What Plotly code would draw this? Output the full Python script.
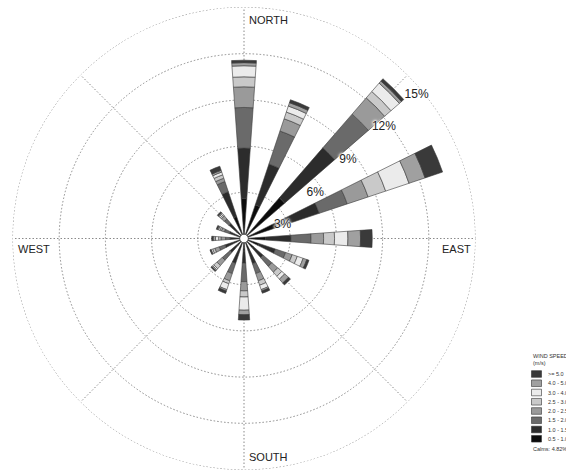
import plotly.graph_objects as go

W, H = 566, 471

directions = ["N", "NNE", "NE", "ENE", "E", "ESE", "SE", "SSE",
              "S", "SSW", "SW", "WSW", "W", "WNW", "NW", "NNW"]
angles = [0, 22.5, 45, 67.5, 90, 112.5, 135, 157.5,
          180, 202.5, 225, 247.5, 270, 292.5, 315, 337.5]

speed_bins = ["0.5 - 1.0", "1.0 - 1.5", "1.5 - 2.0", "2.0 - 2.5",
              "2.5 - 3.0", "3.0 - 4.0", "4.0 - 5.0", ">= 5.0"]
bin_colors = ["#0c0c0c", "#2c2c2c", "#6a6a6a", "#9a9a9a",
              "#c9c9c9", "#ebebeb", "#a0a0a0", "#3a3a3a"]

# frequency (%) per direction, one list per speed bin
f_05_10 = [2.6, 2.3, 3.5, 2.3, 1.4, 1.0, 0.8, 0.8, 0.75, 0.8, 0.55, 0.6, 0.45, 0.5, 0.6, 1.5]
f_10_15 = [3.27, 2.8, 4.3, 2.85, 1.65, 1.15, 0.85, 0.93, 0.85, 0.9, 0.65, 0.7, 0.45, 0.5, 0.7, 1.7]
f_15_20 = [2.64, 2.26, 2.9, 1.92, 1.3, 0.7, 0.75, 0.67, 1.2, 0.7, 0.67, 0.4, 0.3, 0.35, 0.4, 0.7]
f_20_25 = [1.34, 0.84, 1.4, 1.43, 0.82, 0.45, 0.5, 0.5, 0.6, 0.5, 0.46, 0.3, 0.3, 0.2, 0.25, 0.23]
f_25_30 = [0.65, 0.46, 0.55, 1.2, 0.71, 0.35, 0.35, 0.3, 0.4, 0.2, 0.27, 0.15, 0.15, 0.1, 0.1, 0.23]
f_30_40 = [0.72, 0.41, 0.72, 1.6, 0.87, 0.4, 0.25, 0.3, 0.86, 0.4, 0.1, 0.1, 0.2, 0.1, 0.1, 0.19]
f_40_50 = [0.2, 0.23, 0.18, 1.1, 0.82, 0.25, 0.33, 0.1, 0.29, 0.1, 0.08, 0.04, 0.15, 0.07, 0.07, 0.12]
f_50_up = [0.16, 0.2, 0.2, 1.2, 0.76, 0.15, 0.17, 0.15, 0.35, 0.16, 0.07, 0.04, 0.1, 0.08, 0.08, 0.28]

series = [f_05_10, f_10_15, f_15_20, f_20_25, f_25_30, f_30_40, f_40_50, f_50_up]

radial_ticks = [3, 6, 9, 12, 15]
radial_labels = ["3%", "6%", "9%", "12%", "15%"]
calms_text = "Calms: 4.82%"
legend_title = "WIND SPEED<br>(m/s)"

fig = go.Figure()
for name, vals, col in zip(speed_bins, series, bin_colors):
    fig.add_trace(go.Barpolar(
        r=vals, theta=angles, name=name, width=8,
        marker=dict(color=col, line=dict(color="#3a3a3a", width=0.6)),
        showlegend=False,
    ))

# radial tick labels on an overlaid polar (so they sit above the petals)
label_shift = 0.75
halo = "0px 0px 2px white, 0px 0px 2px white, 0px 0px 3px white, 0px 0px 3px white, 0px 0px 4px white"
fig.add_trace(go.Scatterpolar(
    r=[t - label_shift for t in radial_ticks], theta=[45] * len(radial_ticks),
    text=radial_labels, mode="markers+text", textposition="bottom right",
    marker=dict(size=7, color="rgba(0,0,0,0)"), subplot="polar2",
    textfont=dict(size=12, color="#222", shadow=halo),
    showlegend=False, hoverinfo="skip",
))

# polar placement (pixels -> paper)
cx, cy, R = 244, 238.5, 231
dom_x = [(cx - R) / W, (cx + R) / W]
dom_y = [1 - (cy + R) / H, 1 - (cy - R) / H]

def px(x):
    return x / W

def py(y):
    return 1 - y / H

GRID = "#8a8a8a"
DASH = "1.5px,2px"

fig.update_layout(
    width=W, height=H,
    margin=dict(l=0, r=0, t=0, b=0),
    paper_bgcolor="white",
    plot_bgcolor="white",
    barmode="stack",
    font=dict(family="Liberation Sans, Arial, sans-serif", color="#222"),
    polar=dict(
        domain=dict(x=dom_x, y=dom_y),
        bgcolor="white",
        bargap=0,
        radialaxis=dict(
            range=[0, 15], tickvals=radial_ticks, showticklabels=False,
            angle=45, showline=False, ticks="",
            gridcolor=GRID, griddash=DASH, gridwidth=1,
        ),
        angularaxis=dict(
            rotation=90, direction="clockwise",
            tickvals=[0, 45, 90, 135, 180, 225, 270, 315],
            showticklabels=False, ticks="", showline=False,
            gridcolor=GRID, griddash=DASH, gridwidth=1,
        ),
    ),
    polar2=dict(
        domain=dict(x=dom_x, y=dom_y),
        bgcolor="rgba(0,0,0,0)",
        radialaxis=dict(range=[0, 15], showticklabels=False, showgrid=False,
                        showline=False, ticks=""),
        angularaxis=dict(rotation=90, direction="clockwise", showticklabels=False,
                         showgrid=False, showline=False, ticks=""),
    ),
)

shapes = []
annotations = []

# outer dotted ring (15 %)
shapes.append(dict(type="circle", xref="paper", yref="paper", layer="below",
                   x0=px(cx - R), x1=px(cx + R), y0=py(cy + R), y1=py(cy - R),
                   line=dict(color=GRID, width=1, dash=DASH)))

# center hole
hr = 4.3
shapes.append(dict(type="circle", xref="paper", yref="paper", layer="above",
                   x0=px(cx - hr), x1=px(cx + hr), y0=py(cy + hr), y1=py(cy - hr),
                   fillcolor="white", line=dict(color="#333", width=0.8)))

# compass labels
for txt, x, y in [("NORTH", 247, 20), ("SOUTH", 247, 457), ("EAST", 440, 249), ("WEST", 16, 249)]:
    annotations.append(dict(text=txt, x=px(x), y=py(y), xref="paper", yref="paper",
                            xanchor="left", yanchor="middle", showarrow=False,
                            font=dict(size=11, color="#222")))

# custom compact legend
annotations.append(dict(text=legend_title, x=px(530.5), y=py(351), xref="paper", yref="paper",
                        xanchor="left", yanchor="top", showarrow=False, align="left",
                        font=dict(size=5.5, color="#333")))
for k, (name, col) in enumerate(zip(speed_bins[::-1], bin_colors[::-1])):
    yc = 374 + 9.25 * k
    shapes.append(dict(type="rect", xref="paper", yref="paper",
                       x0=px(531.5), x1=px(541.5), y0=py(yc + 3.3), y1=py(yc - 3.3),
                       fillcolor=col, line=dict(color="#333", width=0.6)))
    annotations.append(dict(text=name, x=px(546), y=py(yc), xref="paper", yref="paper",
                            xanchor="left", yanchor="middle", showarrow=False,
                            font=dict(size=5.5, color="#333")))
annotations.append(dict(text=calms_text, x=px(530.5), y=py(448.5), xref="paper", yref="paper",
                        xanchor="left", yanchor="middle", showarrow=False,
                        font=dict(size=5.5, color="#333")))

fig.update_layout(shapes=shapes, annotations=annotations)
fig.write_html("out.html", config={"displayModeBar": False},
               post_script="document.body.style.margin='0';document.body.style.padding='0';")
